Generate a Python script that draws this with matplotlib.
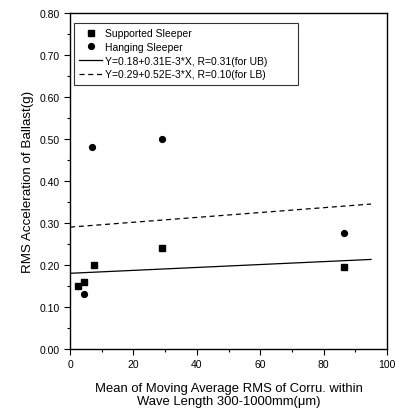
import matplotlib
matplotlib.use("Agg")
import matplotlib.pyplot as plt
from matplotlib.ticker import MultipleLocator

plt.rcParams['font.family'] = ['Liberation Sans', 'DejaVu Sans']

# supported sleeper (squares)
sup_x = [2.5, 4.5, 7.5, 29, 86.5]
sup_y = [0.15, 0.16, 0.20, 0.24, 0.195]
# hanging sleeper (circles)
hang_x = [4.5, 7.0, 29, 86.5]
hang_y = [0.13, 0.48, 0.50, 0.275]
# fitted lines (end points)
ub_x = [0, 95]
ub_y = [0.18, 0.213]
lb_x = [0, 95]
lb_y = [0.29, 0.345]

fig = plt.figure(figsize=(4.03, 4.14), dpi=100)
ax = fig.add_axes([0.174, 0.155, 0.786, 0.811])

ax.plot(sup_x, sup_y, 's', color='black', markersize=4, label='Supported Sleeper')
ax.plot(hang_x, hang_y, 'o', color='black', markersize=4.2, label='Hanging Sleeper')
ax.plot(ub_x, ub_y, '-', color='black', lw=0.9, label='Y=0.18+0.31E-3*X, R=0.31(for UB)')
ax.plot(lb_x, lb_y, '--', color='black', lw=0.9, dashes=(4, 3),
        label='Y=0.29+0.52E-3*X, R=0.10(for LB)')

ax.set_xlim(0, 100)
ax.set_ylim(0, 0.8)
ax.xaxis.set_major_locator(MultipleLocator(20))
ax.xaxis.set_minor_locator(MultipleLocator(10))
ax.yaxis.set_major_locator(MultipleLocator(0.1))
ax.yaxis.set_minor_locator(MultipleLocator(0.05))
ax.yaxis.set_major_formatter(plt.FormatStrFormatter('%.2f'))
ax.tick_params(which='both', direction='out', top=False, right=False, labelsize=7.5)
ax.tick_params(which='major', length=4, width=0.8)
ax.tick_params(which='minor', length=2, width=0.8)
for s in ax.spines.values():
    s.set_linewidth(1.0)

ax.set_xlabel('Mean of Moving Average RMS of Corru. within\nWave Length 300-1000mm(\u03bcm)',
              fontsize=9.4, labelpad=9, linespacing=1.15)
ax.set_ylabel('RMS Acceleration of Ballast(g)', fontsize=9.6, labelpad=4)

leg = ax.legend(loc='upper left', bbox_to_anchor=(0.0126, 0.795, 0.706, 0.175),
                mode='expand', fontsize=7.5, frameon=True, fancybox=False,
                edgecolor='black', handlelength=2.2, handletextpad=0.3,
                borderpad=0.5, labelspacing=0.35, borderaxespad=0)
leg.get_frame().set_linewidth(0.8)

fig.savefig('out.png', dpi=100)
